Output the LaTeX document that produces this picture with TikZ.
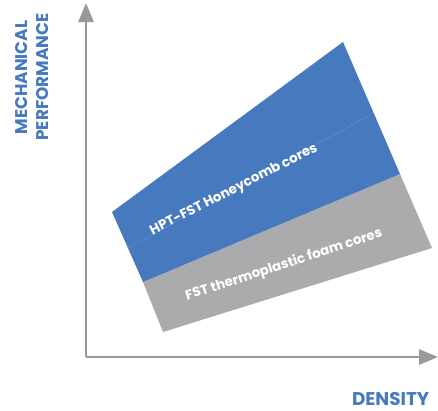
\documentclass[tikz,border=0pt]{standalone}
\usepackage{fontspec}
\setmainfont{Poppins}[BoldFont={Poppins Bold}]
\usetikzlibrary{arrows.meta}
\definecolor{hpblue}{HTML}{4679BD}
\definecolor{foamgray}{HTML}{ABABAD}
\definecolor{axisgray}{HTML}{999999}
\begin{document}
\begin{tikzpicture}[x=1bp,y=-1bp,
  axis/.style={draw=axisgray,line width=2.8bp,-{Triangle[length=19bp,width=15bp]}},
  axlabel/.style={text=hpblue,font=\bfseries\fontsize{17}{18}\selectfont,inner sep=0pt},
  bandlabel/.style={text=white,font=\bfseries\fontsize{13.5}{15}\selectfont,inner sep=0pt}]
\useasboundingbox (0,0) rectangle (438,410);
% bands
\fill[foamgray] (143,282) -- (400,174) -- (432,248) -- (163,332) -- cycle;
\fill[hpblue] (112,212) -- (343,42) -- (400,174) -- (143,282) -- cycle;
\draw[white,opacity=0.35,line width=0.4bp,dash pattern=on 1bp off 1bp] (128,248) -- (373.5,113);
% axes
\coordinate (origin) at (86,357);
\coordinate (ytop) at (86,3);
\coordinate (xend) at (438,357);
\draw[axis] (origin) -- (ytop);
\draw[axis] (origin) -- (xend);
% labels
\node[axlabel,rotate=90] (mech) at (22,77.5) {MECHANICAL};
\node[axlabel,rotate=90] (perf) at (43,77) {PERFORMANCE};
\node[axlabel,font=\bfseries\fontsize{18.5}{19}\selectfont,anchor=base east] (dens) at (429.5,405.5) {DENSITY};
\node[bandlabel,rotate=27] (hpt) at (234,190) {HPT-FST Honeycomb cores};
\node[bandlabel,rotate=18] (fst) at (284,265) {FST thermoplastic foam cores};
\end{tikzpicture}
\end{document}
